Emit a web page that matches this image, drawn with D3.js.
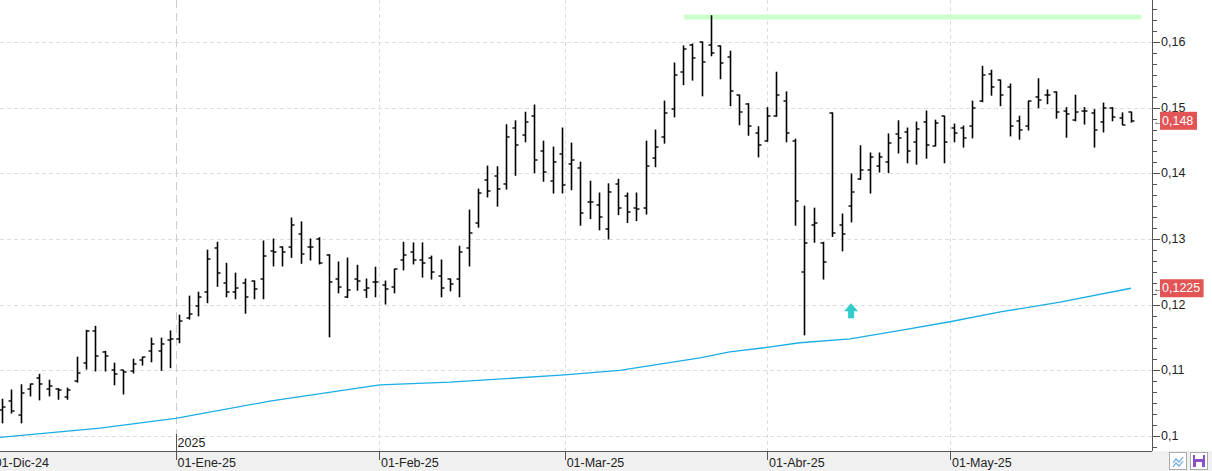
<!DOCTYPE html>
<html>
<head>
<meta charset="utf-8">
<script src="https://cdn.jsdelivr.net/npm/d3@7"></script>
<style>
  body { margin: 0; background: #fff; }
  svg { display: block; font-family: "Liberation Sans", "DejaVu Sans", sans-serif; }
</style>
</head>
<body>
<div id="main"></div>
<script>
// OHLC bars, one per trading day, index 0 = first visible bar
const opens = [.1040,.1053,.1032,.1072,.1088,.1072,.1072,.1059,.1084,.1111,.1160,.1128,.1100,.1100,.1099,.1116,.1129,.1129,.1146,.1148,
  .1180,.1198,.1219,.1286,.1233,.1219,.1233,.1236,.1239,.1282,.1288,.1288,.1307,.1288,.1300,.1276,.1239,.1212,.1239,.1222,
  .1234,.1230,.1227,.1268,.1280,.1268,.1271,.1244,.1239,.1239,.1286,.1325,.1390,.1396,.1384,.1469,.1458,.1487,.1434,.1388,
  .1430,.1414,.1408,.1356,.1352,.1315,.1384,.1366,.1347,.1347,.1423,.1455,.1498,.1554,.1595,.1600,.1595,.1594,.1577,.1519,
  .1506,.1462,.1449,.1487,.1510,.1449,.1250,.1321,.1294,.1492,.1321,.1350,.1391,.1405,.1411,.1417,.1460,.1463,.1448,.1478,
  .1442,.1487,.1469,.1469,.1472,.1510,.1551,.1542,.1532,.1480,.1472,.1516,.1519,.1524,.1495,.1481,.1495,.1492,.1478,.1500,
  .1484,.1493];
const highs = [.1056,.1070,.1078,.1079,.1094,.1085,.1072,.1073,.1120,.1161,.1167,.1129,.1111,.1100,.1117,.1120,.1149,.1149,.1160,.1184,
  .1213,.1219,.1283,.1295,.1263,.1248,.1239,.1236,.1297,.1300,.1288,.1332,.1326,.1300,.1302,.1276,.1265,.1271,.1260,.1239,
  .1257,.1236,.1254,.1295,.1294,.1294,.1274,.1268,.1239,.1289,.1344,.1376,.1411,.1410,.1474,.1480,.1493,.1504,.1449,.1440,
  .1469,.1446,.1417,.1388,.1370,.1384,.1391,.1370,.1370,.1449,.1466,.1510,.1568,.1594,.1597,.1600,.1640,.1594,.1586,.1519,
  .1506,.1471,.1500,.1554,.1524,.1452,.1350,.1347,.1295,.1492,.1338,.1399,.1442,.1431,.1431,.1460,.1480,.1469,.1478,.1495,
  .1481,.1487,.1475,.1472,.1510,.1563,.1557,.1542,.1536,.1487,.1510,.1544,.1527,.1524,.1500,.1519,.1500,.1497,.1507,.1500,
  .1492,.1493];
const lows = [.1020,.1035,.1020,.1061,.1055,.1061,.1056,.1056,.1082,.1102,.1099,.1099,.1078,.1064,.1096,.1108,.1113,.1100,.1104,.1142,
  .1178,.1183,.1203,.1228,.1212,.1209,.1187,.1209,.1209,.1259,.1259,.1272,.1263,.1268,.1262,.1151,.1218,.1211,.1222,.1211,
  .1212,.1201,.1218,.1253,.1262,.1242,.1239,.1212,.1221,.1212,.1259,.1318,.1364,.1350,.1376,.1397,.1448,.1401,.1388,.1370,
  .1370,.1375,.1321,.1331,.1314,.1300,.1337,.1325,.1328,.1338,.1410,.1446,.1486,.1535,.1542,.1518,.1579,.1544,.1503,.1474,
  .1458,.1425,.1449,.1487,.1448,.1321,.1154,.1295,.1239,.1304,.1282,.1326,.1391,.1370,.1402,.1401,.1431,.1416,.1414,.1423,
  .1442,.1416,.1448,.1440,.1454,.1509,.1519,.1503,.1457,.1452,.1466,.1500,.1506,.1484,.1455,.1480,.1475,.1440,.1463,.1480,
  .1474,.1478];
const closes = [.1044,.1038,.1065,.1079,.1079,.1076,.1070,.1070,.1096,.1160,.1122,.1122,.1094,.1097,.1110,.1120,.1140,.1140,.1148,.1175,
  .1186,.1212,.1269,.1248,.1219,.1225,.1211,.1224,.1274,.1280,.1280,.1322,.1277,.1288,.1263,.1234,.1227,.1222,.1236,.1225,
  .1234,.1224,.1254,.1276,.1268,.1263,.1250,.1225,.1231,.1280,.1309,.1370,.1373,.1376,.1455,.1443,.1478,.1420,.1402,.1417,
  .1382,.1420,.1340,.1356,.1334,.1372,.1347,.1341,.1346,.1411,.1440,.1492,.1550,.1589,.1576,.1570,.1583,.1568,.1526,.1493,
  .1472,.1443,.1487,.1519,.1462,.1358,.1294,.1325,.1265,.1309,.1307,.1372,.1405,.1425,.1425,.1446,.1454,.1434,.1468,.1443,
  .1477,.1448,.1462,.1454,.1500,.1550,.1532,.1519,.1472,.1466,.1510,.1512,.1519,.1493,.1490,.1493,.1495,.1466,.1500,.1486,
  .1474,.1480];

// moving average, read at a few bar positions
const maIdx = [-0.2, 10.5, 18.6, 28.7, 40.5, 48, 60.3, 66.2, 74.8, 78, 82, 85.5, 90.9, 96.3, 101.6, 107, 113.4, 121];
const maVal = [.0998,.1012,.1027,.1053,.1078,.1082,.1093,.1100,.1119,.1128,.1135,.1142,.1148,.1161,.1174,.1189,.1204,.1225];

// month separators (bar index) and labels
const monthIdx = [-1.0, 18.6, 40.4, 60.3, 82.0, 101.6];
const monthLbl = ["01-Dic-24", "01-Ene-25", "01-Feb-25", "01-Mar-25", "01-Abr-25", "01-May-25"];

const yTicks = [0.10, 0.11, 0.12, 0.13, 0.14, 0.15, 0.16];
const resistance = {from: 73, to: 122, level: 0.1638};
const signal = {idx: 91, value: 0.1190};
const lastLabels = [{v: 0.148, t: "0,148"}, {v: 0.1225, t: "0,1225"}];

const W = 1212, H = 471, plotR = 1152, plotB = 451;
const x = d3.scaleLinear().domain([0, 121]).range([2, 1131]);
const y = d3.scaleLinear().domain([0.10, 0.16]).range([436, 42]);
const fmt = v => String(+v.toFixed(4)).replace(".", ",");

const svg = d3.select("#main").append("svg").attr("width", W).attr("height", H);

// bottom strip
svg.append("rect").attr("x", 0).attr("y", plotB).attr("width", W).attr("height", H - plotB).attr("fill", "#f0f0f0");
svg.append("line").attr("x1", 0).attr("x2", plotR).attr("y1", plotB + 0.5).attr("y2", plotB + 0.5).attr("stroke", "#555");

// grid
svg.append("g").selectAll("line").data(yTicks).enter().append("line")
  .attr("x1", 0).attr("x2", plotR).attr("y1", d => Math.round(y(d)) + 0.5).attr("y2", d => Math.round(y(d)) + 0.5)
  .attr("stroke", "#ddd").attr("stroke-dasharray", "4,3");
svg.append("g").selectAll("line").data(monthIdx).enter().append("line")
  .attr("x1", d => Math.round(x(d)) + 0.5).attr("x2", d => Math.round(x(d)) + 0.5)
  .attr("y1", 0).attr("y2", plotB)
  .attr("stroke", (d, i) => i == 1 ? "#ccc" : "#ddd").attr("stroke-dasharray", (d, i) => i == 1 ? "8,5" : "4,3");

// resistance band
svg.append("rect").attr("x", x(resistance.from) + 1).attr("width", x(resistance.to) - x(resistance.from))
  .attr("y", y(resistance.level) - 2.5).attr("height", 5).attr("fill", "#ccffcc");

// moving average
const maPts = maIdx.map((d, i) => [d, maVal[i]]);
svg.append("path").datum(maPts)
  .attr("d", d3.line().x(d => x(d[0])).y(d => y(d[1])))
  .attr("fill", "none").attr("stroke", "#1aaee6").attr("stroke-width", 1.3);

// OHLC bars
const bars = opens.map((o, i) => ({i, o, h: highs[i], l: lows[i], c: closes[i]}));
const g = svg.append("g").attr("stroke", "#000").attr("stroke-width", 1.6);
bars.forEach(d => {
  const cx = Math.round(x(d.i)) + 0.5;
  g.append("line").attr("x1", cx).attr("x2", cx).attr("y1", y(d.h) - 0.5).attr("y2", y(d.l) + 0.5);
  g.append("line").attr("x1", cx - 3).attr("x2", cx).attr("y1", Math.round(y(d.o))).attr("y2", Math.round(y(d.o))).attr("stroke-width", 1.4);
  g.append("line").attr("x1", cx).attr("x2", cx + 3).attr("y1", Math.round(y(d.c))).attr("y2", Math.round(y(d.c))).attr("stroke-width", 1.4);
});

// signal arrow
const ax = x(signal.idx), ay = y(signal.value);
svg.append("path")
  .attr("d", `M${ax},${ay - 8} L${ax + 7},${ay} L${ax + 3},${ay} L${ax + 3},${ay + 7} L${ax - 3},${ay + 7} L${ax - 3},${ay} L${ax - 7},${ay} Z`)
  .attr("fill", "#33cccc");

// right axis
svg.append("line").attr("x1", plotR + 0.5).attr("x2", plotR + 0.5).attr("y1", 0).attr("y2", plotB).attr("stroke", "#555");
const minor = d3.range(-3, 45).map(k => 0.1 + k * 0.01 / 6);
svg.append("g").selectAll("line").data(minor).enter().append("line")
  .attr("x1", plotR).attr("x2", (d, k) => plotR + ((k + 3) % 6 == 0 ? 8 : 5))
  .attr("y1", d => Math.round(y(d)) + 0.5).attr("y2", d => Math.round(y(d)) + 0.5)
  .attr("stroke", "#555").style("display", d => y(d) < 0 || y(d) > plotB ? "none" : null);
svg.append("g").selectAll("text").data(yTicks).enter().append("text")
  .attr("x", 1161).attr("y", d => y(d) + 4).attr("font-size", 12.5).attr("fill", "#222").text(fmt);

// last value labels
lastLabels.forEach(d => {
  const yy = y(d.v);
  const w = d.t.length * 6.6 + 4;
  svg.append("text").attr("x", plotR + 1).attr("y", yy + 4).attr("font-size", 11).attr("fill", "#555").text("←");
  svg.append("rect").attr("x", 1160).attr("y", yy - 9).attr("width", w).attr("height", 18).attr("fill", "#e35555");
  svg.append("text").attr("x", 1162).attr("y", yy + 4).attr("font-size", 12.5).attr("fill", "#fff").text(d.t);
});

// bottom axis
svg.append("g").selectAll("line").data(monthIdx).enter().append("line")
  .attr("x1", d => Math.round(x(d)) + 0.5).attr("x2", d => Math.round(x(d)) + 0.5)
  .attr("y1", plotB).attr("y2", plotB + 9).attr("stroke", "#555");
svg.append("g").selectAll("text").data(monthIdx).enter().append("text")
  .attr("x", d => x(d) + 2).attr("y", 467).attr("font-size", 12.5).attr("fill", "#222")
  .text((d, i) => monthLbl[i]);
svg.append("line").attr("x1", Math.round(x(monthIdx[1])) + 0.5).attr("x2", Math.round(x(monthIdx[1])) + 0.5)
  .attr("y1", 434).attr("y2", plotB).attr("stroke", "#555");
svg.append("text").attr("x", x(monthIdx[1]) + 2).attr("y", 447).attr("font-size", 12.5).attr("fill", "#222").text("2025");

// corner buttons
svg.append("rect").attr("x", 1169.5).attr("y", 452.5).attr("width", 17).attr("height", 17).attr("fill", "#fff").attr("stroke", "#aaa");
svg.append("path").attr("d", "M1173,463 l3,-4 l3,3 l4,-5 M1173,467 l3,-4 l3,3 l4,-5").attr("fill", "none").attr("stroke", "#6aa8d8").attr("stroke-width", 1.2);
svg.append("rect").attr("x", 1190.5).attr("y", 452.5).attr("width", 17).attr("height", 17).attr("fill", "#fff").attr("stroke", "#aaa");
svg.append("rect").attr("x", 1193).attr("y", 455).attr("width", 12).attr("height", 12).attr("fill", "#8a4fc8");
svg.append("rect").attr("x", 1195).attr("y", 455).attr("width", 8).attr("height", 4).attr("fill", "#fff");
svg.append("rect").attr("x", 1196).attr("y", 462).attr("width", 6).attr("height", 5).attr("fill", "#fff");
</script>
</body>
</html>
